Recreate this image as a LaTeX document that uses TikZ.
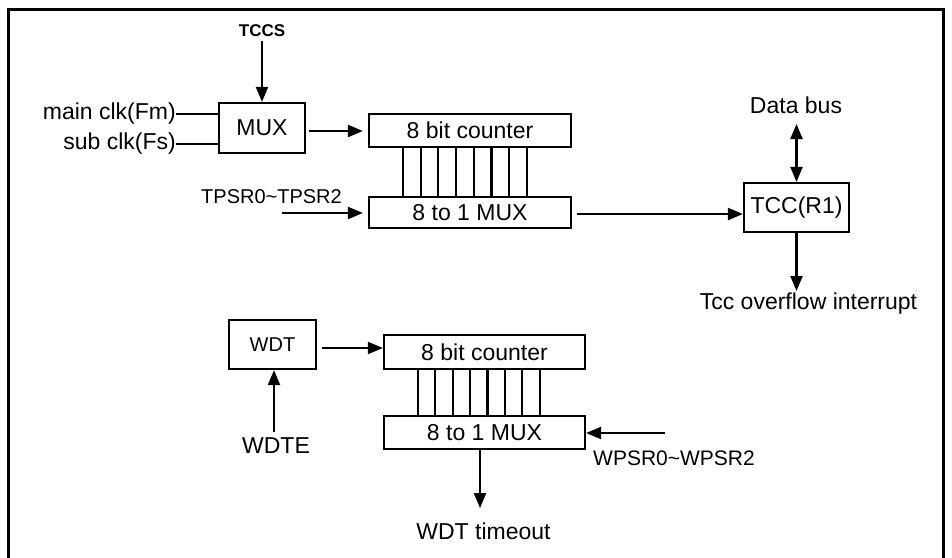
\documentclass[tikz,border=0pt]{standalone}
\usepackage{fontspec}
\setmainfont{Liberation Sans}
\usetikzlibrary{arrows.meta,calc}
\tikzset{
  blk/.style={draw, line width=2.2pt, rectangle, inner sep=0pt, font=\fontsize{23}{27}\selectfont},
  lbl/.style={inner sep=0pt, font=\fontsize{23}{27}\selectfont},
  slbl/.style={inner sep=0pt, font=\fontsize{20}{24}\selectfont},
  wire/.style={line width=2.2pt},
  arr/.style={line width=2.2pt, -{Triangle[length=15pt,width=12pt]}},
  darr/.style={line width=2.2pt, {Triangle[length=15pt,width=12pt]}-{Triangle[length=15pt,width=12pt]}},
}
\begin{document}
\begin{tikzpicture}[x=1pt,y=-1pt]
\useasboundingbox (0,0) rectangle (952,557);
\clip (0,0) rectangle (952,557);
\fill[white] (0,0) rectangle (952,557);
\draw[line width=3pt] (8.5,570) -- (8.5,9) -- (943,9) -- (943,570);

% ---- upper part ----
\node[blk, minimum width=86pt, minimum height=50pt] (mux) at (262,128) {MUX};
\node[blk, minimum width=202pt, minimum height=33pt] (c1) at (470,130.5) {8 bit counter};
\node[blk, minimum width=202pt, minimum height=31pt] (m1) at (470,212.5) {8 to 1 MUX};
\node[blk, minimum width=105pt, minimum height=49pt] (tcc) at (796.5,207.5) {TCC(R1)};

\node[inner sep=0pt, font=\fontsize{17}{20}\selectfont\bfseries] (tccs) at (262,31) {TCCS};
\node[lbl, anchor=east] (mainclk) at (176,114) {main clk(Fm)};
\node[lbl, anchor=east] (subclk) at (176,144) {sub clk(Fs)};
\node[slbl] (tpsr) at (271.5,197) {TPSR0\textasciitilde TPSR2};
\node[lbl] (databus) at (796,105) {Data bus};
\node[lbl] (tccint) at (808.5,304) {Tcc overflow interrupt};

\coordinate (tccsA) at (262,41);
\coordinate (tpsrA) at (282,213);
\coordinate (dbA) at (796.5,124);
\coordinate (intA) at (796.5,291);

\draw[arr] (tccsA) -- (mux.north);
\draw[wire] (mainclk.east) -- (mainclk.east -| mux.west);
\draw[wire] (subclk.east) -- (subclk.east -| mux.west);
\draw[arr, shorten <=3pt, shorten >=5pt] (mux.east |- 0,131) -- (c1.west |- 0,131);
\foreach \i in {0,...,7}{
  \draw[wire] ([xshift={35pt+17.7pt*\i}]c1.south west) -- ([xshift={35pt+17.7pt*\i}]m1.north west);
}
\draw[arr, shorten >=5pt] (tpsrA) -- (tpsrA -| m1.west);
\draw[arr, shorten <=5pt] (m1.east |- 0,214) -- (tcc.west |- 0,214);
\draw[darr] (dbA) -- (tcc.north);
\draw[arr] (tcc.south) -- (intA);

% ---- lower part ----
\node[blk, minimum width=87pt, minimum height=49pt, font=\fontsize{20}{24}\selectfont] (wdt) at (272.5,344.5) {WDT};
\node[blk, minimum width=201pt, minimum height=34pt] (c2) at (484.5,352) {8 bit counter};
\node[blk, minimum width=201pt, minimum height=33pt] (m2) at (484.5,432.5) {8 to 1 MUX};

\node[lbl] (wdte) at (276,446) {WDTE};
\node[lbl, font=\fontsize{21}{25}\selectfont] (wpsr) at (674,458) {WPSR0\textasciitilde WPSR2};
\node[lbl] (wdtto) at (483.5,531) {WDT timeout};

\coordinate (wdteA) at (274,432);
\coordinate (wpsrA) at (665,433);
\coordinate (toA) at (480,508);

\draw[arr, shorten <=5pt] (wdt.east |- 0,348) -- (c2.west |- 0,348);
\foreach \i in {0,...,7}{
  \draw[wire] ([xshift={35pt+17.4pt*\i}]c2.south west) -- ([xshift={35pt+17.4pt*\i}]m2.north west);
}
\draw[arr] (wdteA) -- (wdteA |- wdt.south);
\draw[arr] (wpsrA) -- (wpsrA -| m2.east);
\draw[arr] (toA |- m2.south) -- (toA);
\end{tikzpicture}
\end{document}
